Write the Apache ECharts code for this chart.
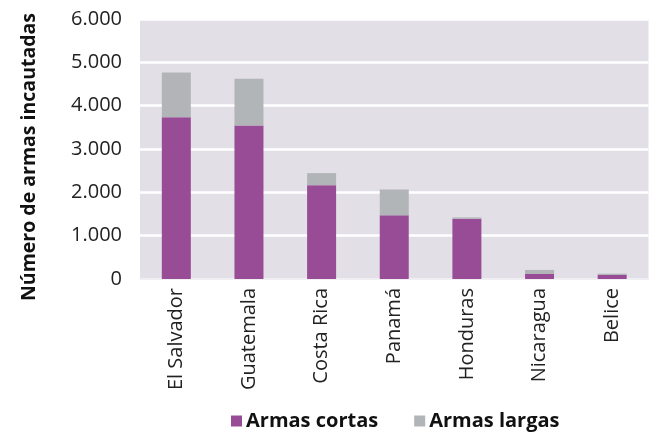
<!DOCTYPE html>
<html>
<head>
<meta charset="utf-8">
<script src="https://cdn.jsdelivr.net/npm/echarts@6/dist/echarts.min.js"></script>
<style>
  html, body { margin: 0; padding: 0; background: #ffffff; }
  #chart { width: 649px; height: 432px; }
</style>
</head>
<body>
<div id="chart"></div>
<script>
// Seized weapons by country, short vs long arms
const paises = ['El Salvador', 'Guatemala', 'Costa Rica', 'Panamá', 'Honduras', 'Nicaragua', 'Belice'];
const armasCortas = [3735, 3541, 2165, 1469, 1392, 116, 93];
const armasLargas = [1028, 1083, 278, 596, 30, 93, 30];
const ticksY = [0, 1000, 2000, 3000, 4000, 5000, 6000];

const FONT = "'Open Sans', 'Noto Sans', sans-serif";
const fmtMiles = v => String(v).replace(/\B(?=(\d{3})+(?!\d))/g, '.');

const chart = echarts.init(document.getElementById('chart'), null, { renderer: 'canvas' });
chart.setOption({
  animation: false,
  textStyle: { fontFamily: FONT },
  grid: {
    left: 140, right: 0.5, top: 19, bottom: 153,
    show: true, backgroundColor: '#e2dfe7', borderWidth: 0
  },
  legend: {
    left: 226, top: 406,
    itemWidth: 11, itemHeight: 11, itemGap: 36,
    icon: 'rect',
    textStyle: { fontFamily: FONT, fontSize: 20, fontWeight: 'bold', color: '#111', padding: [0, 0, 0, -1] },
    data: ['Armas cortas', 'Armas largas']
  },
  xAxis: {
    type: 'category',
    data: paises,
    axisTick: { show: false },
    axisLine: { show: true, lineStyle: { color: '#ecebef', width: 1.5 } },
    axisLabel: { rotate: 90, fontSize: 20, color: '#222', margin: 9, fontFamily: FONT }
  },
  yAxis: {
    type: 'value',
    min: ticksY[0], max: ticksY[ticksY.length - 1], interval: 1000,
    name: 'Número de armas incautadas',
    nameLocation: 'middle',
    nameGap: 101,
    nameTextStyle: { fontSize: 19.5, fontWeight: 'bold', color: '#111', fontFamily: FONT, padding: [0, 16, 0, 0] },
    axisLine: { show: false },
    axisTick: { show: false },
    axisLabel: { fontSize: 20, color: '#222', margin: 18, fontFamily: FONT, formatter: fmtMiles },
    splitLine: { lineStyle: { color: '#ffffff', width: 2.5 } }
  },
  series: [
    {
      name: 'Armas cortas', type: 'bar', stack: 'total', barWidth: 29,
      itemStyle: { color: '#984c96' },
      data: armasCortas
    },
    {
      name: 'Armas largas', type: 'bar', stack: 'total', barWidth: 29,
      itemStyle: { color: '#b1b5b7' },
      data: armasLargas
    }
  ]
});
</script>
</body>
</html>
